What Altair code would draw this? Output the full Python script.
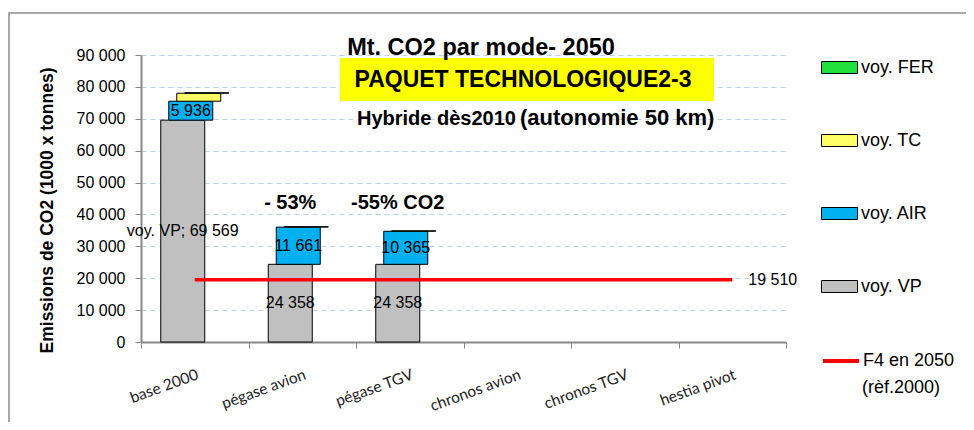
import altair as alt
import pandas as pd

categories = ["base 2000", "pégase avion", "pégase TGV", "chronos avion", "chronos TGV", "hestia pivot"]
series = ["voy. VP", "voy. AIR", "voy. TC", "voy. FER"]
legend_order = ["voy. FER", "voy. TC", "voy. AIR", "voy. VP"]
colors = ["#22E03A", "#FFFF66", "#00B0F0", "#C0C0C0"]
vp = [69569, 24358, 24358, 0, 0, 0]
air = [5936, 11661, 10365, 0, 0, 0]
tc = [2500, 150, 150, 0, 0, 0]
fer = [150, 0, 0, 0, 0, 0]
f4 = [19510, 19510, 19510, 19510, 19510, 19510]
f4_name = "F4 en 2050"
anno_cats = ["pégase avion", "pégase TGV"]
anno_texts = ["- 53%", "-55% CO2"]
y_ticks = [0, 10000, 20000, 30000, 40000, 50000, 60000, 70000, 80000, 90000]

rows = []
for si, (s, vals) in enumerate(zip(series, [vp, air, tc, fer])):
    for c, v in zip(categories, vals):
        rows.append({"category": c, "series": s, "order": si, "value": v})
df = pd.DataFrame(rows)
df_line = pd.DataFrame({"category": categories, "value": f4, "name": [f4_name] * len(categories)})
df_anno = pd.DataFrame({"category": anno_cats, "text": anno_texts})
dummy = pd.DataFrame({"a": [0]})

FONT = "Liberation Sans"
fmt = "replace(format({v}, ',d'), ',', ' ')"

xenc = alt.X("category:N", sort=categories,
             scale=alt.Scale(domain=categories, paddingInner=0, paddingOuter=0),
             axis=alt.Axis(title=None, tickBand="extent", tickSize=6, labelAngle=-20,
                           labelAlign="right", labelBaseline="top", labelFont="Lato",
                           labelFontSize=15.5, labelPadding=19, labelColor="#222",
                           domainColor="#888", domainWidth=2, tickColor="#888", grid=False))
yscale = alt.Scale(domain=[0, 90000], nice=False)
yaxis = alt.Axis(title="Emissions de CO2 (1000 x tonnes)", values=y_ticks,
                 labelExpr=fmt.format(v="datum.value"), labelFont=FONT, labelFontSize=16,
                 labelColor="black", labelPadding=10, tickSize=6, tickColor="#888",
                 domainColor="#888", domainWidth=2, grid=True, gridColor="#BFCFEC",
                 gridDash=[5, 4], gridWidth=1, titleFont=FONT, titleFontSize=17.5,
                 titleFontWeight="bold", titleColor="black", titleAngle=-90,
                 titleX=-94, titleY=155, titleAlign="center", titleBaseline="middle")

stacked = alt.Chart(df).transform_stack(
    stack="value", groupby=["category"], as_=["y0", "y1"],
    sort=[alt.SortField("order", "ascending")]
).transform_filter("datum.value > 0")

offsets = [-12, -4, 4, 12]
layers = []
for i, s in enumerate(series):
    layers.append(
        stacked.transform_filter(alt.datum.series == s).mark_bar(
            width=44, xOffset=offsets[i], stroke="black", strokeWidth=1, opacity=1
        ).encode(
            x=xenc,
            y=alt.Y("y1:Q", scale=yscale, axis=yaxis),
            y2="y0:Q",
            fill=alt.Fill("series:N", scale=alt.Scale(domain=legend_order, range=colors),
                          legend=alt.Legend(title=None, orient="none", legendX=680, legendY=-6,
                                            symbolType="M-1,-0.333H1V0.333H-1Z", symbolSize=1296,
                                            symbolStrokeColor="black", symbolStrokeWidth=1,
                                            labelFont=FONT, labelFontSize=18, labelColor="black",
                                            labelOffset=3, rowPadding=45, padding=0)),
        )
    )

label_common = dict(font=FONT, fontSize=16, color="black", baseline="middle")
vp_lab = stacked.transform_filter(alt.datum.series == "voy. VP").transform_calculate(
    mid="(datum.y0 + datum.y1) / 2",
    lab="(datum.category == 'base 2000' ? 'voy. VP; ' : '') + " + fmt.format(v="datum.value"),
).mark_text(dx=-12, **label_common).encode(
    x=xenc, y=alt.Y("mid:Q", scale=yscale, axis=yaxis), text="lab:N")
air_lab = stacked.transform_filter(alt.datum.series == "voy. AIR").transform_calculate(
    mid="(datum.y0 + datum.y1) / 2",
    lab=fmt.format(v="datum.value"),
).mark_text(dx=-4, **label_common).encode(
    x=xenc, y=alt.Y("mid:Q", scale=yscale, axis=yaxis), text="lab:N")

line = alt.Chart(df_line).mark_line(strokeWidth=3.5).encode(
    x=xenc, y=alt.Y("value:Q", scale=yscale, axis=yaxis),
    stroke=alt.Stroke("name:N", scale=alt.Scale(domain=[f4_name], range=["#FF0000"]),
                      legend=alt.Legend(title=None, orient="none", legendX=680, legendY=286,
                                        symbolType="M-1,0H1", symbolSize=1296, symbolStrokeWidth=4,
                                        labelFont=FONT, labelFontSize=18, labelColor="black",
                                        labelOffset=2, padding=0)),
)
line_lab = alt.Chart(df_line).transform_filter(
    alt.datum.category == categories[-1]
).transform_calculate(lab=fmt.format(v="datum.value")).mark_text(
    align="left", dx=16, **label_common
).encode(x=xenc, y=alt.Y("value:Q", scale=yscale, axis=yaxis), text="lab:N")

anno = alt.Chart(df_anno).mark_text(
    font=FONT, fontSize=20, fontWeight="bold", color="black", dx=-12, baseline="middle"
).encode(x=xenc, y=alt.value(148), text="text:N")

frame = alt.Chart(dummy).mark_rect(fill="transparent", stroke="#8c8c8c", strokeWidth=1.5).encode(
    x=alt.value(-132), x2=alt.value(845), y=alt.value(-42), y2=alt.value(400))
ybox = alt.Chart(dummy).mark_rect(fill="#FFFF00").encode(
    x=alt.value(199), x2=alt.value(573), y=alt.value(3), y2=alt.value(46))
t1 = alt.Chart(dummy).mark_text(font=FONT, fontSize=23.5, fontWeight="bold", color="black",
                                baseline="middle", align="center").encode(
    x=alt.value(340), y=alt.value(-7), text=alt.value("Mt. CO2 par mode- 2050"))
t2 = alt.Chart(dummy).mark_text(font=FONT, fontSize=23, fontWeight="bold", color="black",
                                baseline="middle", align="center").encode(
    x=alt.value(382), y=alt.value(25), text=alt.value("PAQUET TECHNOLOGIQUE2-3"))
t3 = alt.Chart(dummy).mark_text(font=FONT, fontSize=20, fontWeight="bold", color="black",
                                baseline="middle", align="left").encode(
    x=alt.value(216), y=alt.value(64), text=alt.value("Hybride dès2010"))
t4 = alt.Chart(dummy).mark_text(font=FONT, fontSize=22, fontWeight="bold", color="black",
                                baseline="middle", align="left").encode(
    x=alt.value(379), y=alt.value(63), text=alt.value("(autonomie 50 km)"))
t5 = alt.Chart(dummy).mark_text(font=FONT, fontSize=18, color="black",
                                baseline="middle", align="left").encode(
    x=alt.value(721), y=alt.value(333), text=alt.value("(rèf.2000)"))

chart = alt.layer(
    *layers, vp_lab, air_lab, line, line_lab, anno, ybox, t1, t2, t3, t4, t5, frame
).properties(
    width=645, height=287,
    autosize=alt.AutoSizeParams(type="none"),
    padding={"left": 133, "top": 47, "right": 180, "bottom": 80},
).configure_view(stroke=None)

chart.save("out.html", embed_options={"renderer": "svg", "actions": False})
